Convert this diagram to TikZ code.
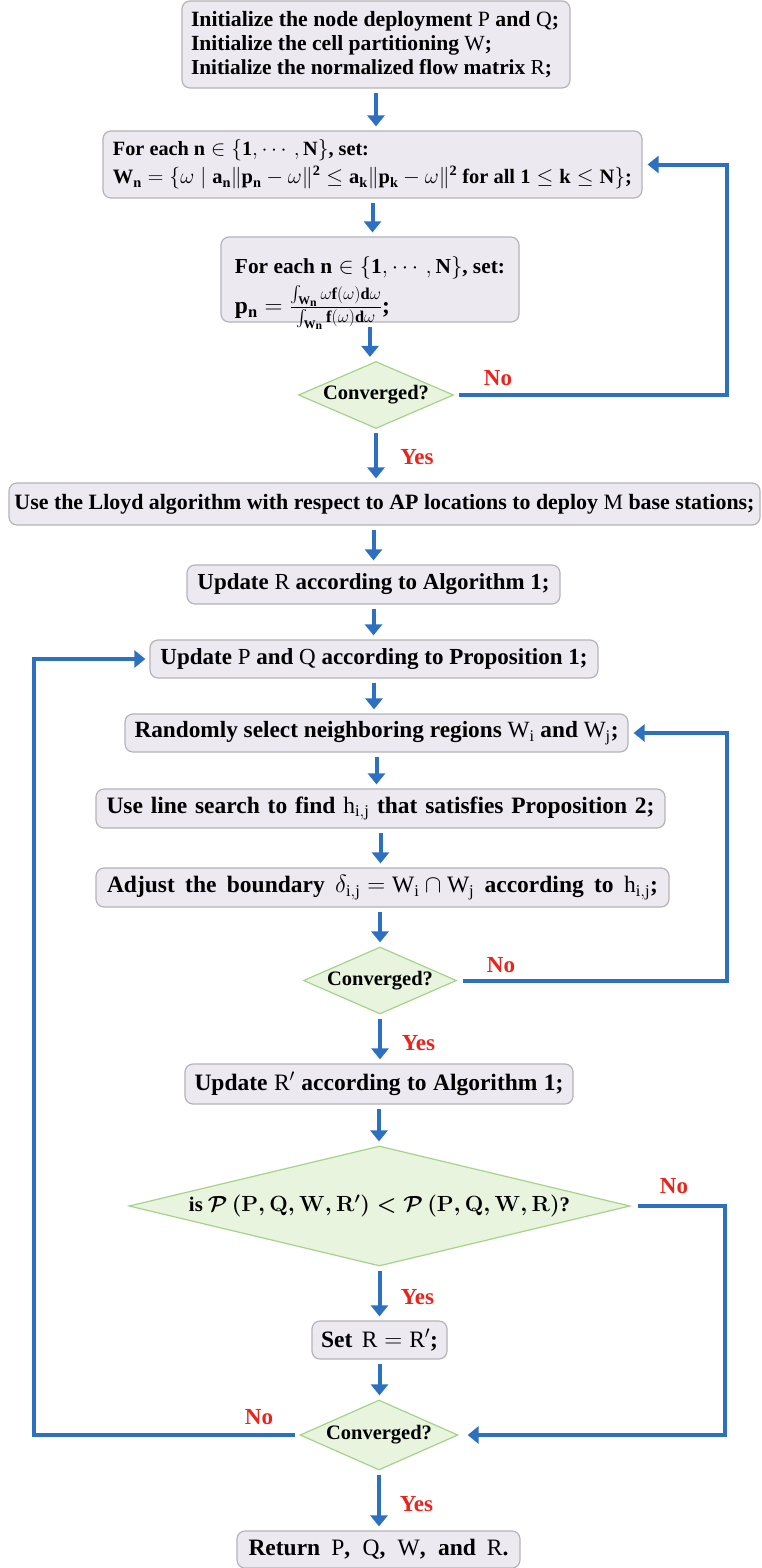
\documentclass[tikz,border=0pt]{standalone}
\usepackage{amsmath,amssymb}
\usepackage{graphicx}
\usepackage{fontspec}
\setmainfont{Liberation Serif}
\usetikzlibrary{arrows.meta,shapes.geometric,calc}
\definecolor{boxfill}{HTML}{EDE9F1}
\definecolor{boxline}{HTML}{B4B4B8}
\definecolor{dfill}{HTML}{E8F4DE}
\definecolor{dline}{HTML}{A6D38A}
\definecolor{arrblue}{HTML}{2C70BF}
\definecolor{lblred}{HTML}{E8251D}
\newcommand{\bxfont}{\fontsize{23.5}{24}\selectfont\bfseries}
\newcommand{\bxbold}{\fontsize{23.5}{24}\selectfont\bfseries\boldmath}
\newcommand{\dmfont}{\fontsize{20.5}{22}\selectfont\bfseries}
\thickmuskip=5mu
\medmuskip=4mu
\newlength{\fitlen}
\newcommand{\fitto}[2]{\settowidth{\fitlen}{#2}%
  \ifdim\fitlen>#1\relax\resizebox{#1}{!}{#2}\else\makebox[#1][s]{#2}\fi}
\begin{document}
\begin{tikzpicture}[x=1pt,y=-1pt,
  procbox/.style={draw=boxline, fill=boxfill, rounded corners=8pt, line width=1.2pt,
    inner sep=0pt, font=\bxfont, align=center},
  decis/.style={draw=dline, fill=dfill, shape=diamond, line width=1.2pt, inner sep=0pt,
    font=\dmfont, align=center},
  arr/.style={draw=arrblue, line width=4pt, -{Triangle[width=17pt,length=11pt]},
    shorten <=4pt, shorten >=4pt},
  loopline/.style={draw=arrblue, line width=4pt, -{Triangle[width=17pt,length=11pt]}},
  lbl/.style={text=lblred, font=\fontsize{23}{24}\selectfont\bfseries, inner sep=0pt}
]
\useasboundingbox (0,0) rectangle (762,1568);

% boxes
\node[procbox, align=left, minimum width=388pt, minimum height=87pt] (b1) at (376,44.5)
  {\makebox[370pt][l]{\fitto{368pt}{Initialize the node deployment $\mathrm{P}$ and $\mathrm{Q}$;}}\\
   \fitto{301pt}{Initialize the cell partitioning $\mathrm{W}$;}\\
   \fitto{361pt}{Initialize the normalized flow matrix $\mathrm{R}$;}};
\node[procbox, align=left, minimum width=539pt, minimum height=67pt] (b2) at (372.5,164.5)
  {\fitto{256pt}{For each $\mathbf{n}\in\{\mathbf{1},\cdots,\mathbf{N}\}$, set:}\\[4pt]
   \fitto{519pt}{$\mathbf{W_n}=\{\omega\mid\mathbf{a_n}\|\mathbf{p_n}-\omega\|^{\mathbf{2}}\le\mathbf{a_k}\|\mathbf{p_k}-\omega\|^{\mathbf{2}}$ for all $\mathbf{1}\le\mathbf{k}\le\mathbf{N}\}$;}};
\node[procbox, align=left, minimum width=298pt, minimum height=85pt] (b3) at (370,279.5)
  {\rule{0pt}{28pt}\fitto{270pt}{For each $\mathbf{n}\in\{\mathbf{1},\cdots,\mathbf{N}\}$, set:}\\[6pt]
   \raisebox{0pt}[\height][0pt]{\makebox[270pt][l]{$\mathbf{p_n}=\frac{\int_{\mathbf{W_n}}\omega\mathbf{f}(\omega)\mathbf{d}\omega}{\int_{\mathbf{W_n}}\mathbf{f}(\omega)\mathbf{d}\omega}$;}}};
\node[decis, minimum width=155pt, minimum height=67pt, shape aspect=2.31] (d1) at (376,395) {Converged?};
\node[procbox, minimum width=751pt, minimum height=42pt] (b4) at (384.5,504)
  {\fitto{740pt}{Use the Lloyd algorithm with respect to AP locations to deploy $\mathrm{M}$ base stations;}};
\node[procbox, minimum width=373pt, minimum height=39pt] (b5) at (373.5,584.5)
  {\fitto{352pt}{Update $\mathrm{R}$ according to Algorithm 1;}};
\node[procbox, minimum width=448pt, minimum height=38pt] (b6) at (374,659)
  {\fitto{427pt}{Update $\mathrm{P}$ and $\mathrm{Q}$ according to Proposition 1;}};
\node[procbox, minimum width=503pt, minimum height=38pt] (b7) at (376.5,733)
  {\fitto{484pt}{Randomly select neighboring regions $\mathrm{W_i}$ and $\mathrm{W_j}$;}};
\node[procbox, minimum width=569pt, minimum height=39pt] (b8) at (380.5,808.5)
  {\fitto{548pt}{Use line search to find $\mathrm{h_{i,j}}$ that satisfies Proposition 2;}};
\node[procbox, minimum width=573pt, minimum height=39pt] (b9) at (382.5,887.5)
  {\fitto{551pt}{Adjust the boundary $\delta_{\mathrm{i,j}}=\mathrm{W_i}\cap\mathrm{W_j}$ according to $\mathrm{h_{i,j}}$;}};
\node[decis, minimum width=153pt, minimum height=67pt, shape aspect=2.28] (d2) at (380,980.5) {Converged?};
\node[procbox, minimum width=388pt, minimum height=40pt] (b10) at (379,1084)
  {\fitto{369pt}{Update $\mathrm{R}'$ according to Algorithm 1;}};
\node[decis, font=\bxbold, minimum width=501pt, minimum height=120pt, shape aspect=4.17] (d3) at (379.5,1206)
  {\fitto{381pt}{is $\mathcal{P}\left(\mathbf{P},\mathbf{Q},\mathbf{W},\mathbf{R}'\right)<\mathcal{P}\left(\mathbf{P},\mathbf{Q},\mathbf{W},\mathbf{R}\right)$?}};
\node[procbox, minimum width=135pt, minimum height=38pt] (b11) at (379.5,1340)
  {\fitto{117pt}{Set $\mathrm{R}=\mathrm{R}'$;}};
\node[decis, minimum width=158pt, minimum height=70pt, shape aspect=2.26] (d4) at (379,1435) {Converged?};
\node[procbox, minimum width=283pt, minimum height=37pt] (b12) at (378.5,1549.5)
  {\fitto{260pt}{Return $\mathrm{P}$, $\mathrm{Q}$, $\mathrm{W}$, and $\mathrm{R}$.}};

% straight arrows
\draw[arr] (b1.south) -- (b1.south |- b2.north);
\draw[arr] (b2.south) -- (b2.south |- b3.north);
\draw[arr] (b3.south) -- (b3.south |- d1.north);
\draw[arr] (d1.south) -- (d1.south |- b4.north);
\draw[arr] (b5.north |- b4.south) -- (b5.north);
\draw[arr] (b5.south) -- (b5.south |- b6.north);
\draw[arr] (b6.south) -- (b6.south |- b7.north);
\draw[arr] (b7.south) -- (b7.south |- b8.north);
\draw[arr] (b8.south) -- (b8.south |- b9.north);
\draw[arr] (d2.north |- b9.south) -- (d2.north);
\draw[arr] (d2.south) -- (d2.south |- b10.north);
\draw[arr] (b10.south) -- (b10.south |- d3.north);
\draw[arr] (d3.south) -- (d3.south |- b11.north);
\draw[arr] (b11.south) -- (b11.south |- d4.north);
\draw[arr] (d4.south) -- (d4.south |- b12.north);

% loops
\coordinate (c1) at (727,395);
\coordinate (c2) at (727,980.5);
\coordinate (c3) at (725,1206);
\coordinate (c4) at (34,1435);
\draw[loopline, shorten <=5pt, shorten >=5pt] (d1.east) -- (c1) |- (b2.east);
\draw[loopline, shorten <=6pt, shorten >=5pt] (d2.east) -- (c2) |- (b7.east);
\draw[loopline, shorten <=7pt, shorten >=9pt] (d3.east) -- (c3) |- (d4.east);
\draw[loopline, shorten <=4pt, shorten >=4pt] (d4.west) -- (c4) |- (b6.west);

% labels
\node[lbl] (n1) at (498,378) {No};
\node[lbl] (y1) at (417,457) {Yes};
\node[lbl] (n2) at (501,965) {No};
\node[lbl] (y2) at (418.5,1043) {Yes};
\node[lbl] (n3) at (674,1186) {No};
\node[lbl] (y3) at (417.5,1297) {Yes};
\node[lbl] (n4) at (259,1417) {No};
\node[lbl] (y4) at (416.5,1504) {Yes};
\end{tikzpicture}
\end{document}
